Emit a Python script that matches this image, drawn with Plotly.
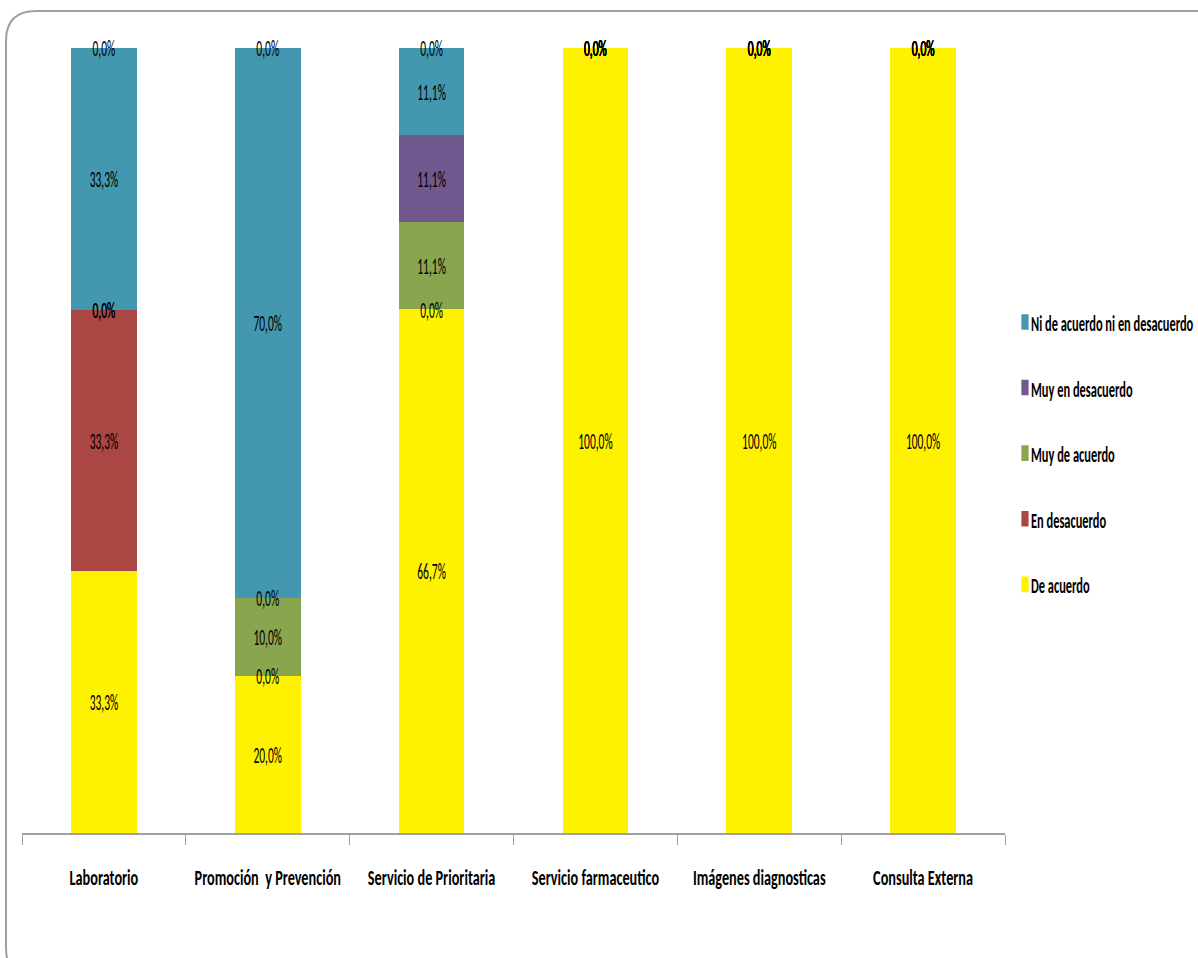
import plotly.graph_objects as go

categories = ["Laboratorio", "Promoción  y Prevención", "Servicio de Prioritaria",
              "Servicio farmaceutico", "Imágenes diagnosticas", "Consulta Externa"]

series_names = ["De acuerdo", "En desacuerdo", "Muy de acuerdo",
                "Muy en desacuerdo", "Ni de acuerdo ni en desacuerdo", ""]
de_acuerdo = [33.3, 20.0, 66.7, 100.0, 100.0, 100.0]
en_desacuerdo = [33.3, 0.0, 0.0, 0.0, 0.0, 0.0]
muy_de_acuerdo = [0.0, 10.0, 11.1, 0.0, 0.0, 0.0]
muy_en_desacuerdo = [0.0, 0.0, 11.1, 0.0, 0.0, 0.0]
ni_ni = [33.3, 70.0, 11.1, 0.0, 0.0, 0.0]
sin_respuesta = [0.0, 0.0, 0.0, 0.0, 0.0, 0.0]

series_values = [de_acuerdo, en_desacuerdo, muy_de_acuerdo,
                 muy_en_desacuerdo, ni_ni, sin_respuesta]
colors = ["#FFF200", "#AA4643", "#89A54E", "#71588F", "#4398AF", "#4F81BD"]

FONT = "Carlito, Lato, sans-serif"

# plot area in pixels
W, H = 1198, 958
L, R, T, B = 22, 193, 48, 125
pw, ph = W - L - R, H - T - B


def px(x):
    return (x - L) / pw


def py(y):
    return (H - B - y) / ph


fig = go.Figure()

n = len(series_names)
for i, (name, vals, col) in enumerate(zip(series_names, series_values, colors)):
    fig.add_trace(go.Bar(
        x=categories, y=vals, name=name, marker_color=col,
        marker_line_width=0, showlegend=bool(name),
        legendgroup=f"g{i}", legendrank=100 + n - i,
    ))

# data labels at the centre of each (normalised) segment, zero segments included
totals = [sum(s[j] for s in series_values) for j in range(len(categories))]
cum = [0.0] * len(categories)
for vals in series_values:
    ys, texts = [], []
    for j, v in enumerate(vals):
        share = v / totals[j] * 100
        ys.append(cum[j] + share / 2)
        cum[j] += share
        texts.append(f"{v:.1f}%".replace(".", ","))
    fig.add_trace(go.Scatter(
        x=categories, y=ys, mode="text", text=texts, cliponaxis=False,
        textfont=dict(family=FONT, size=23, color="black"),
        showlegend=False, hoverinfo="skip",
    ))

# rounded frame around the chart
x0, x1 = px(6), px(1240)
y0, y1 = py(11), py(978)
rx, ry = 30 / pw, 30 / ph
path = (f"M {x0},{y1 + ry} L {x0},{y0 - ry} Q {x0},{y0} {x0 + rx},{y0} "
        f"L {x1 - rx},{y0} Q {x1},{y0} {x1},{y0 - ry} L {x1},{y1 + ry} "
        f"Q {x1},{y1} {x1 - rx},{y1} L {x0 + rx},{y1} Q {x0},{y1} {x0},{y1 + ry} Z")

fig.update_layout(
    barmode="stack", barnorm="percent", bargap=0.6,
    width=W, height=H,
    margin=dict(l=L, r=R, t=T, b=B, pad=0, autoexpand=False),
    paper_bgcolor="white", plot_bgcolor="white",
    font=dict(family=FONT, color="black"),
    shapes=[dict(type="path", xref="paper", yref="paper", path=path,
                 line=dict(color="#A0A0A0", width=2), layer="above")],
    legend=dict(
        x=px(1005), y=py(300.5), xanchor="left", yanchor="top",
        traceorder="grouped", tracegroupgap=32.7,
        font=dict(family=FONT, size=23, color="black", weight="bold"),
        bgcolor="rgba(0,0,0,0)", itemwidth=30,
    ),
    xaxis=dict(
        type="category", showgrid=False, showline=True, linecolor="#A0A0A0",
        linewidth=2, ticks="outside", tickson="boundaries", ticklen=10,
        tickcolor="#A0A0A0", tickwidth=1, ticklabelstandoff=22, tickangle=0,
        automargin=False,
        tickfont=dict(family=FONT, size=23, color="black", weight="bold"),
    ),
    yaxis=dict(range=[0, 100], visible=False, showgrid=False),
)

# narrow the lettering horizontally (condensed look), keeping each text's anchor
squeeze_js = """
var gd = document.getElementById('{plot_id}');
function squeeze(sel, f, dx, dy) {
  gd.querySelectorAll(sel).forEach(function (t) {
    var b = t.getBBox();
    var a = window.getComputedStyle(t).textAnchor || t.getAttribute('text-anchor') || 'start';
    var cx = a === 'middle' ? b.x + b.width / 2 : (a === 'end' ? b.x + b.width : b.x);
    var tr = t.getAttribute('transform') || '';
    t.setAttribute('transform', tr + ' translate(' + (cx + dx) + ',' + dy + ') scale(' + f + ',1) translate(' + (-cx) + ',0)');
  });
}
function squeezeSwatch(sel, sx, sy) {
  gd.querySelectorAll(sel).forEach(function (p) {
    var tr = p.getAttribute('transform') || '';
    p.setAttribute('transform', tr + ' scale(' + sx + ',' + sy + ')');
  });
}
squeeze('.xtick text', 0.62, 0, 0);
squeeze('.textpoint text', 0.5, 0, 2.5);
squeeze('.legendtext', 0.54, -14, 0);
squeezeSwatch('.legendpoints path', 0.6, 1.3);
"""

fig.write_html("out.html", post_script=squeeze_js)
